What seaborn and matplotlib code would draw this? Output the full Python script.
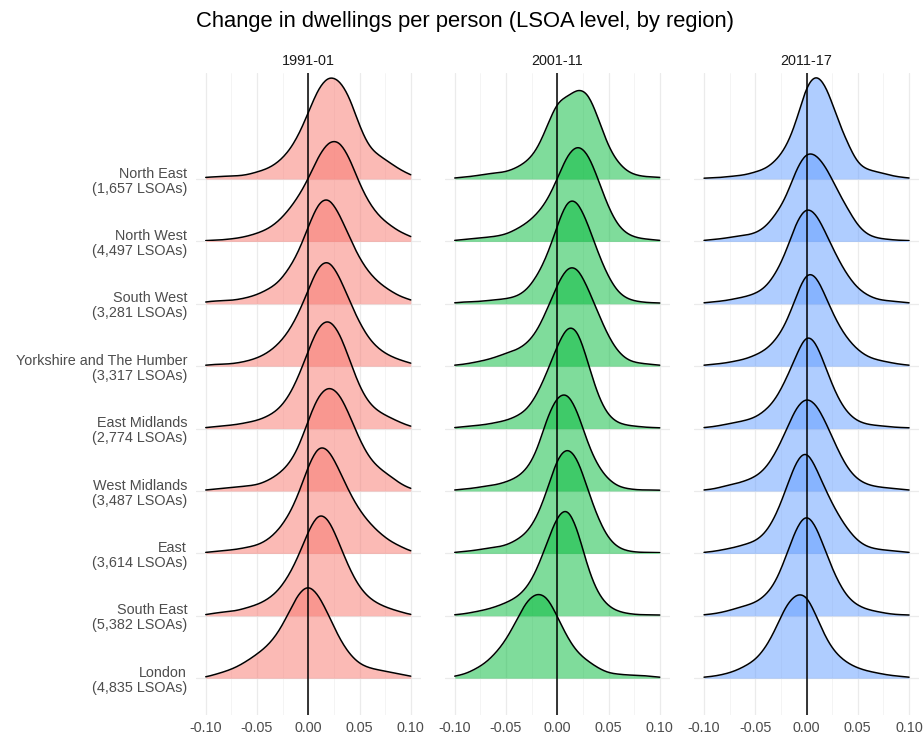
import numpy as np
import pandas as pd
import seaborn as sns
import matplotlib.pyplot as plt

periods = ['1991-01', '2001-11', '2011-17']
period_colors = ['#F8766D', '#00BA38', '#619CFF']
regions = ['North East', 'North West', 'South West', 'Yorkshire and The Humber',
           'East Midlands', 'West Midlands', 'East', 'South East', 'London']
lsoa_counts = ['1,657', '4,497', '3,281', '3,317', '2,774', '3,487', '3,614', '5,382', '4,835']

change_grid = [-0.10, -0.09, -0.08, -0.07, -0.06, -0.05, -0.04, -0.03, -0.02, -0.01, 0.00,
               0.01, 0.02, 0.03, 0.04, 0.05, 0.06, 0.07, 0.08, 0.09, 0.10]

# relative density heights, one row per region (same order as regions)
heights_1991 = [
    [2, 2, 3, 3, 4, 7, 10, 16, 26, 42, 66, 92, 104, 100, 84, 52, 30, 23, 16, 9, 4],
    [1, 1, 2, 3, 5, 8, 12, 19, 30, 44, 62, 86, 101, 102, 85, 57, 37, 24, 16, 9, 5],
    [2, 3, 3, 4, 6, 9, 14, 20, 33, 50, 77, 103, 108, 91, 67, 45, 30, 20, 13, 7, 4],
    [1, 2, 2, 3, 5, 8, 13, 21, 33, 51, 76, 102, 108, 91, 66, 43, 26, 16, 10, 6, 3],
    [1, 2, 3, 4, 6, 8, 12, 18, 30, 50, 78, 104, 111, 98, 70, 41, 24, 16, 11, 6, 2],
    [1, 2, 3, 4, 5, 6, 10, 16, 25, 41, 71, 97, 106, 99, 77, 51, 32, 22, 15, 7, 2],
    [1, 2, 3, 4, 6, 8, 13, 22, 36, 57, 88, 110, 105, 84, 61, 43, 30, 20, 12, 7, 2],
    [1, 3, 4, 5, 8, 11, 16, 24, 38, 58, 85, 105, 98, 73, 47, 28, 17, 11, 7, 4, 1],
    [1, 4, 7, 11, 17, 24, 32, 44, 63, 85, 95, 84, 63, 40, 24, 14, 10, 8, 6, 4, 2],
]
heights_2001 = [
    [1, 2, 3, 5, 6, 7, 11, 17, 28, 52, 79, 82, 91, 88, 61, 31, 15, 6, 3, 2, 2],
    [1, 2, 3, 4, 5, 7, 12, 18, 27, 40, 62, 88, 98, 89, 62, 33, 14, 6, 3, 2, 1],
    [1, 2, 2, 3, 4, 5, 7, 13, 27, 47, 78, 107, 104, 80, 50, 26, 10, 4, 2, 1, 1],
    [1, 2, 4, 6, 9, 13, 16, 22, 34, 56, 82, 101, 100, 78, 53, 29, 13, 5, 3, 2, 1],
    [1, 2, 3, 4, 6, 8, 12, 18, 33, 56, 83, 105, 101, 66, 31, 12, 5, 3, 2, 1, 1],
    [1, 2, 3, 5, 6, 9, 13, 21, 38, 74, 96, 100, 80, 46, 24, 11, 4, 2, 1, 1, 1],
    [1, 2, 3, 5, 6, 8, 13, 20, 35, 62, 97, 108, 96, 63, 34, 14, 5, 2, 1, 1, 1],
    [1, 2, 4, 6, 9, 13, 18, 27, 45, 73, 101, 111, 87, 46, 21, 9, 4, 2, 1, 1, 1],
    [2, 4, 9, 15, 25, 38, 57, 78, 86, 83, 62, 40, 25, 17, 10, 5, 4, 3, 3, 2, 1],
]
heights_2011 = [
    [1, 1, 2, 3, 4, 7, 10, 18, 31, 56, 96, 107, 92, 60, 36, 14, 9, 7, 4, 2, 1],
    [1, 2, 3, 5, 6, 8, 14, 27, 43, 73, 91, 87, 73, 51, 33, 15, 6, 3, 2, 1, 1],
    [1, 2, 3, 5, 7, 10, 16, 30, 51, 83, 99, 90, 68, 46, 28, 15, 8, 4, 3, 2, 1],
    [1, 2, 3, 5, 7, 11, 16, 26, 42, 70, 97, 91, 66, 43, 27, 16, 9, 6, 4, 2, 1],
    [1, 2, 4, 6, 8, 11, 18, 29, 49, 73, 98, 86, 57, 31, 15, 7, 4, 3, 2, 1, 1],
    [1, 2, 5, 7, 10, 14, 22, 38, 60, 85, 95, 87, 66, 42, 22, 11, 6, 4, 3, 2, 1],
    [1, 2, 4, 6, 9, 12, 20, 37, 64, 94, 106, 84, 60, 40, 24, 12, 6, 4, 3, 2, 1],
    [1, 2, 4, 7, 10, 13, 20, 33, 59, 89, 105, 89, 60, 35, 18, 10, 6, 4, 2, 1, 1],
    [1, 2, 4, 7, 12, 18, 30, 49, 74, 85, 85, 61, 37, 23, 15, 10, 7, 5, 3, 2, 1],
]

rows = []
for period, table in zip(periods, [heights_1991, heights_2001, heights_2011]):
    for region, hts in zip(regions, table):
        for x, h in zip(change_grid, hts):
            rows.append((period, region, x, h))
df = pd.DataFrame(rows, columns=['period', 'region', 'change', 'weight'])

sns.set_theme(style='white')
plt.rcParams['font.family'] = ['Liberation Sans', 'DejaVu Sans']

FIG_W, FIG_H = 923, 740
fig = plt.figure(figsize=(FIG_W / 100, FIG_H / 100), dpi=100)


def box(left, top, width, height):
    # pixel box (from top-left) -> figure fraction
    return [left / FIG_W, 1 - (top + height) / FIG_H, width / FIG_W, height / FIG_H]


panel_left = [195.5, 444.5, 693.8]
panel_w = 225.5
panel_top, panel_bottom = 73, 715
first_base, row_step = 179, 62.4
ridge_h = 125
xlim = (-0.11, 0.11)
bandwidth = 0.0068
grey_text = '#4D4D4D'

for j, period in enumerate(periods):
    pl = panel_left[j]
    # background panel: grid, ticks, labels
    bg = fig.add_axes(box(pl, panel_top, panel_w, panel_bottom - panel_top))
    bg.set_xlim(*xlim)
    n = len(regions)
    bg.set_ylim(1 - (panel_bottom - (first_base + (n - 1) * row_step)) / row_step,
                n + (first_base - panel_top) / row_step)
    bg.set_xticks([-0.10, -0.05, 0.0, 0.05, 0.10])
    bg.set_xticklabels(['-0.10', '-0.05', '0.00', '0.05', '0.10'])
    bg.set_xticks([-0.075, -0.025, 0.025, 0.075], minor=True)
    bg.set_yticks(range(1, n + 1))
    if j == 0:
        bg.set_yticklabels([f'{r}\n({c} LSOAs)' for r, c in zip(regions[::-1], lsoa_counts[::-1])],
                           linespacing=1.1)
        for t in bg.get_yticklabels():
            t.set_multialignment('right')
    else:
        bg.set_yticklabels([])
    bg.grid(which='major', color='#EBEBEB', linewidth=0.9)
    bg.grid(which='minor', axis='x', color='#F3F3F3', linewidth=0.6)
    bg.tick_params(which='both', length=0, labelsize=10.4, colors=grey_text)
    bg.tick_params(axis='x', pad=4)
    bg.tick_params(axis='y', pad=6)
    for s in bg.spines.values():
        s.set_visible(False)
    bg.set_title(period, fontsize=10.4, color='#1A1A1A', pad=6)

    # one transparent axes per ridge, lower ridges drawn on top
    for i, region in enumerate(regions):
        sub = df[(df['period'] == period) & (df['region'] == region)]
        sd = np.sqrt(np.cov(sub['change'], aweights=sub['weight']))
        base = first_base + i * row_step
        ax = fig.add_axes(box(pl, base - ridge_h, panel_w, ridge_h))
        sns.kdeplot(data=sub, x='change', weights='weight', bw_method=bandwidth / sd,
                    clip=(-0.10, 0.10), fill=True, color=period_colors[j], alpha=0.5,
                    linewidth=0, ax=ax)
        sns.kdeplot(data=sub, x='change', weights='weight', bw_method=bandwidth / sd,
                    clip=(-0.10, 0.10), color='black', linewidth=1.1, ax=ax)
        ax.set_xlim(*xlim)
        ax.set_ylim(0, ridge_h / (sub['weight'].sum() * 0.01))
        ax.set_axis_off()

    # zero line over everything
    top = fig.add_axes(box(pl, panel_top, panel_w, panel_bottom - panel_top))
    top.set_xlim(*xlim)
    top.axvline(0, color='black', linewidth=1.1)
    top.set_axis_off()

fig.text(panel_left[0] / FIG_W, 1 - 22 / FIG_H,
         'Change in dwellings per person (LSOA level, by region)',
         ha='left', va='center', fontsize=15.8, color='black')

fig.savefig('out.png', dpi=100)
